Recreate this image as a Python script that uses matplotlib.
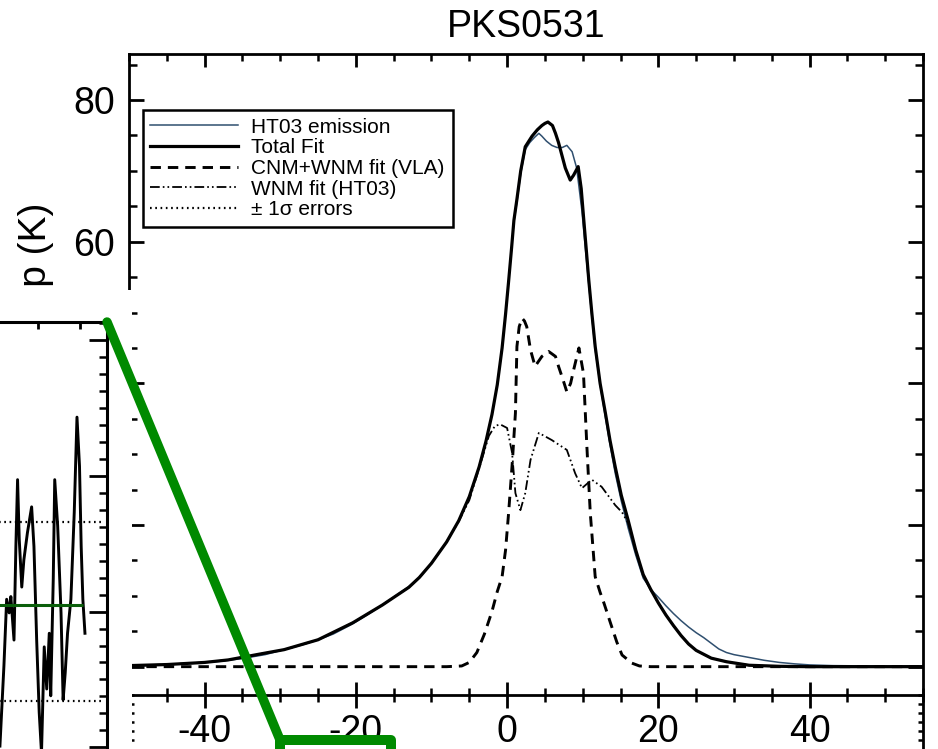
import matplotlib

matplotlib.use("Agg")
import matplotlib.pyplot as plt
from matplotlib.patches import ConnectionPatch, Rectangle
from matplotlib.ticker import MultipleLocator

# HT03 emission spectrum (velocity in km/s, brightness temperature in K)
emis_v = [-50, -47, -44, -41, -38, -35, -32, -29.5, -27, -25, -23, -20.5, -18.5, -16.5,
          -14.5, -13, -11.6, -10, -8, -6.4, -5, -3.7, -2.8, -2, -1.3, -0.66, -0.2, 0.2,
          0.6, 0.9, 1.3, 1.8, 2.4, 3.0, 3.6, 4.2, 4.6, 5.2, 5.9, 6.6, 7.3, 7.9, 8.6, 9.2,
          9.9, 10.4, 10.8, 11.2, 11.65, 12.3, 13, 13.6, 14.3, 15.1, 16, 17, 18, 19.1, 20,
          21, 22, 23, 24, 25, 26, 27, 28, 29, 30, 32, 34, 36, 38, 40, 43, 46, 50, 55]
emis_t = [0.15, 0.2, 0.35, 0.5, 0.75, 1.15, 1.7, 2.4, 3.1, 3.8, 4.6, 6.0, 7.3, 8.7,
          10.2, 11.3, 12.6, 14.6, 17.6, 20.6, 24.0, 28.2, 31.8, 35.6, 39.8, 45.0, 49.8, 54.4,
          59.2, 62.8, 65.6, 69.6, 73.0, 74.0, 74.7, 75.3, 74.9, 74.2, 73.6, 73.3, 73.3, 73.6, 72.7, 70.4,
          64.3, 58.5, 54.0, 49.5, 44.8, 39.8, 35.2, 31.4, 27.3, 23.4, 19.6, 15.8, 12.5, 10.8, 9.8,
          8.6, 7.5, 6.5, 5.6, 4.8, 4.1, 3.3, 2.5, 2.0, 1.7, 1.3, 0.9, 0.6, 0.4, 0.25, 0.15, 0.12, 0.1, 0.1]

# total Gaussian fit
fit_v = [-50, -45, -40, -36.9, -32.6, -29.5, -25, -20.4, -16.5, -13, -11.6, -10, -8, -6.4,
         -5, -3.7, -2.8, -2, -1.3, -0.66, -0.2, 0.2, 0.6, 0.9, 1.3, 1.8, 2.4, 3.3, 4.0, 4.6,
         5.0, 5.4, 6.0, 6.4, 6.8, 7.3, 7.7, 8.35, 8.8, 9.4, 9.8, 10.1, 10.5, 10.8, 11.2, 11.65,
         12.3, 13, 13.6, 14.3, 15.1, 16, 17, 18, 19, 20, 21, 22, 23, 24, 25, 27, 29, 32, 36, 40, 55]
fit_t = [0.15, 0.3, 0.6, 0.95, 1.8, 2.4, 3.8, 6.2, 8.7, 11.2, 12.6, 14.6, 17.6, 20.6,
         24.0, 28.2, 31.8, 35.6, 39.8, 45.0, 49.8, 54.4, 59.2, 63.0, 66.0, 70.0, 73.4, 74.9, 75.8, 76.4,
         76.7, 76.9, 76.4, 75.3, 74.0, 72.0, 70.4, 68.7, 69.4, 70.6, 67.5, 63.6, 58.5, 54.6, 50.0, 45.2,
         40.0, 35.8, 32.0, 28.2, 24.2, 20.7, 16.5, 13.0, 10.9, 9.0, 7.3, 5.8, 4.4, 3.2, 2.3, 1.2, 0.7, 0.2, 0.05, 0.0, 0.0]

# CNM+WNM components fitted to the VLA absorption
cnm_v = [-50, -8, -6, -5, -4, -3, -2, -1.3, -0.66, -0.2, 0.2, 0.7, 1.1, 1.3, 1.6, 1.98,
         2.3, 2.6, 3.1, 3.7, 4.6, 5.5, 6.4, 6.8, 7.4, 7.9, 8.4, 8.8, 9.5, 10.1, 10.55, 11,
         11.65, 12.3, 12.8, 13.6, 14.5, 15.2, 16.5, 17.5, 19, 55]
cnm_t = [0, 0, 0.1, 0.6, 2.0, 4.6, 7.8, 10.6, 12.7, 16.5, 21.7, 29.0, 35.8, 45.2, 48.0, 49.2,
         48.8, 48.0, 44.7, 42.4, 43.8, 44.5, 43.8, 42.4, 40.5, 38.8, 40.0, 41.9, 45.0, 41.4, 31.1, 21.7,
         12.7, 10.5, 9.0, 6.4, 3.5, 1.65, 0.5, 0.1, 0, 0]

# remaining WNM emission from HT03
wnm_v = [-50, -45, -40, -36.9, -32.6, -29.5, -25, -20.4, -16.5, -13, -11.6, -10, -8, -6.4,
         -5, -3.7, -2.4, -1.6, -0.9, 0, 0.66, 1.1, 1.76, 2.4, 3.1, 4.2, 5.9, 7.9, 9.0, 9.9,
         11.2, 12.5, 14.3, 15.2, 16, 17, 18, 19, 20, 21, 22, 23, 24, 25, 27, 29, 32, 36, 40, 55]
wnm_t = [0.15, 0.3, 0.6, 0.95, 1.8, 2.4, 3.8, 6.2, 8.7, 11.2, 12.6, 14.6, 17.6, 20.5,
         23.5, 28.0, 32.6, 34.0, 34.2, 33.7, 30.2, 24.5, 22.1, 24.5, 29.2, 33.0, 32.0, 30.6, 27.3, 25.2,
         26.4, 25.4, 22.8, 21.8, 20.3, 16.4, 12.9, 10.8, 9.0, 7.3, 5.8, 4.4, 3.2, 2.3, 1.2, 0.7, 0.2, 0.05, 0, 0]

# inset: residual trace with its mean and 1-sigma levels
resid_v = [-5.81, -5.73, -5.62, -5.49, -5.37, -5.29, -5.14, -5.05, -4.97, -4.89, -4.77, -4.67,
           -4.50, -4.30, -4.19, -4.06, -3.94, -3.83, -3.70, -3.58, -3.46, -3.39, -3.27, -3.20,
           -3.06, -2.90, -2.80, -2.70, -2.59, -2.43, -2.27, -2.14, -2.02, -1.94, -1.86, -1.76]
resid_t = [-0.99, -0.74, -0.40, 0.09, -0.01, 0.11, -0.21, 0.48, 0.97, 0.53, 0.18, 0.38,
           0.58, 0.77, 0.48, -0.21, -0.74, -1.04, -0.26, -0.57, -0.16, -0.62, 0.24, 0.97,
           0.63, -0.01, -0.65, -0.45, -0.16, 0.09, 0.73, 1.43, 1.07, 0.48, 0.09, -0.16]
resid_mean = 0.05
resid_sigma = 0.66
mean_span = (-15.0, -1.86)
sigma_span = (-15.0, -0.9)

# velocity window marked below the spectrum
zoom_v = (-30.0, -15.3)
zoom_top = 17.0

legend_labels = ["HT03 emission", "Total Fit", "CNM+WNM fit (VLA)", "WNM fit (HT03)",
                 "\u00b1 1\u03c3 errors"]

W, H = 938, 749
GREEN = "#008a00"
BLUE = "#2f4f6f"

plt.rcParams["font.family"] = ["Liberation Sans", "DejaVu Sans"]
plt.rcParams["axes.unicode_minus"] = False
plt.rcParams["lines.scale_dashes"] = False


def fig_rect(x0, y0, x1, y1):
    # pixel box measured from the top-left corner -> figure fraction
    return [x0 / W, 1 - y1 / H, (x1 - x0) / W, (y1 - y0) / H]


fig = plt.figure(figsize=(W / 100, H / 100), dpi=100)

ax = fig.add_axes(fig_rect(129, 54, 923, 695), zorder=0)
emis_line, = ax.plot(emis_v, emis_t, color=BLUE, lw=1.1)
wnm_line, = ax.plot(wnm_v, wnm_t, color="black", lw=1.3,
                    dashes=(7, 2.2, 1.2, 2.2, 1.2, 2.2))
cnm_line, = ax.plot(cnm_v, cnm_t, color="black", lw=2.1, dashes=(7.5, 5))
fit_line, = ax.plot(fit_v, fit_t, color="black", lw=2.3)

ax.set_xlim(-50, 55)
ax.set_ylim(-4, 86.5)
ax.xaxis.set_major_locator(MultipleLocator(20))
ax.xaxis.set_minor_locator(MultipleLocator(5))
ax.yaxis.set_major_locator(MultipleLocator(20))
ax.yaxis.set_minor_locator(MultipleLocator(5))
ax.tick_params(which="both", direction="in", top=True, right=True, width=2,
               labelsize=27)
ax.tick_params(axis="x", which="major", length=9.4, pad=14)
ax.tick_params(axis="x", which="minor", length=4.7, width=1.8)
ax.tick_params(axis="y", which="major", length=11, pad=10)
ax.tick_params(axis="y", which="minor", length=5.5, width=1.8)
for spine in ax.spines.values():
    spine.set_linewidth(2)

ax.set_title("PKS0531", fontsize=27, pad=12)
ax.set_ylabel("Brightness Temp (K)", fontsize=28)
ax.yaxis.set_label_coords(-0.095, 0.494)

# lower panel sharing the velocity axis
lower = fig.add_axes(fig_rect(129, 695, 923, 895), zorder=0.5, facecolor="none")
lower.set_xlim(ax.get_xlim())
lower.set_ylim(0, 22)
lower.spines["top"].set_visible(False)
lower.spines["left"].set_linewidth(2)
lower.spines["right"].set_linewidth(2)
lower.xaxis.set_major_locator(MultipleLocator(20))
lower.xaxis.set_minor_locator(MultipleLocator(5))
lower.yaxis.set_major_locator(MultipleLocator(1))
lower.tick_params(axis="x", which="both", direction="in", top=True, bottom=False,
                  labeltop=False, labelbottom=False, width=2)
lower.tick_params(axis="x", which="major", length=9.4)
lower.tick_params(axis="x", which="minor", length=4.7, width=1.8)
lower.tick_params(axis="y", direction="in", left=True, right=True, length=3.6,
                  width=1.8, labelleft=False)
lower.add_patch(Rectangle((zoom_v[0], -5), zoom_v[1] - zoom_v[0], zoom_top + 5,
                          facecolor="none", edgecolor=GREEN, lw=7.2,
                          joinstyle="round", clip_on=False))

# white backing for the inset
fig.add_artist(Rectangle((0, 0), 132 / W, (H - 290) / H, transform=fig.transFigure,
                         facecolor="white", edgecolor="none", zorder=1))

inset = fig.add_axes(fig_rect(-193, 322, 107, 829), zorder=2)
inset.plot(resid_v, resid_t, color="black", lw=2.1)
inset.hlines(resid_mean, *mean_span, color="#0b5f0b", lw=2.2)
inset.hlines([resid_mean - resid_sigma - 0.05, resid_mean + resid_sigma - 0.05],
             *sigma_span, color="black", lw=1.6, linestyles=(0, (1.2, 2.6)))
inset.set_xlim(-15, -0.71)
inset.set_ylim(-1.6, 2.13)
inset.xaxis.set_major_locator(MultipleLocator(2))
inset.yaxis.set_major_locator(MultipleLocator(1))
inset.yaxis.set_minor_locator(MultipleLocator(0.125))
inset.tick_params(axis="x", direction="in", top=True, length=5, width=2,
                  labelbottom=False)
inset.tick_params(axis="y", which="both", direction="in", right=True, width=2,
                  labelleft=False)
inset.tick_params(axis="y", which="major", length=13)
inset.tick_params(axis="y", which="minor", length=5.8, width=1.8)
for spine in inset.spines.values():
    spine.set_linewidth(2.2)

link = ConnectionPatch(xyA=(1, 1), coordsA=inset.transAxes,
                       xyB=(zoom_v[0], zoom_top), coordsB=lower.transData,
                       color=GREEN, lw=6.8, capstyle="round")
link.set_zorder(3)
fig.add_artist(link)

sigma_handle = plt.Line2D([], [], color="black", lw=1.6, linestyle=(0, (1.2, 2.6)))
leg = ax.legend([emis_line, fit_line, cnm_line, wnm_line, sigma_handle], legend_labels,
                loc="upper left", bbox_to_anchor=(142.7 / W, 1 - 110 / H),
                bbox_transform=fig.transFigure, borderaxespad=0,
                prop={"size": 15}, handlelength=4.2, handletextpad=0.65,
                labelspacing=0.08, borderpad=0.37, fancybox=False, framealpha=1,
                edgecolor="black")
leg.get_frame().set_linewidth(1.8)

fig.savefig("out.png", dpi=100)
